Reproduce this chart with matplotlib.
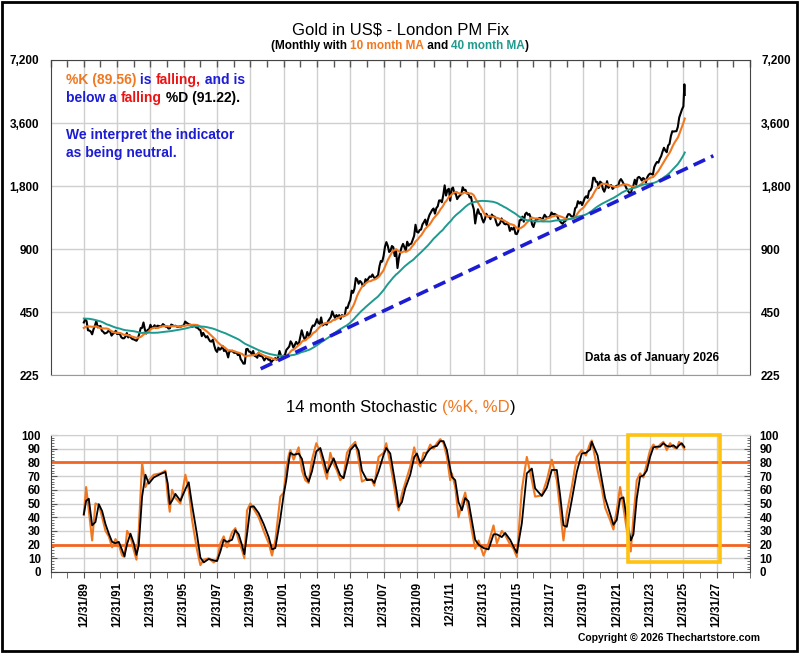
import numpy as np
import pandas as pd
import matplotlib
matplotlib.use("Agg")
import matplotlib.pyplot as plt
from matplotlib.patches import Rectangle
from matplotlib.ticker import FixedLocator, FixedFormatter, NullLocator

plt.rcParams['font.family'] = ['Liberation Sans', 'DejaVu Sans']
plt.rcParams['font.weight'] = 'bold'

# ---------------- data ----------------
# Gold, London PM fix, month-end closes, Jan 1986 .. Jan 2026
price_start_year = 1986
gold_close = [
    345, 339, 345, 340, 343, 346, 357, 385, 423, 401, 383, 391,      # 1986
    405, 406, 419, 451, 454, 447, 462, 453, 460, 468, 492, 484,      # 1987
    458, 426, 457, 449, 456, 436, 437, 427, 397, 412, 422, 410,      # 1988
    394, 387, 383, 378, 362, 373, 368, 360, 367, 376, 408, 401,      # 1989
    415, 407, 368, 367, 363, 352, 372, 387, 408, 380, 384, 386,      # 1990
    366, 362, 355, 357, 360, 368, 362, 347, 354, 357, 366, 353,      # 1991
    354, 353, 341, 337, 337, 343, 357, 340, 349, 339, 334, 333,      # 1992
    330, 328, 337, 355, 377, 378, 401, 371, 355, 370, 371, 391,      # 1993
    378, 381, 389, 377, 387, 386, 384, 385, 394, 389, 383, 383,      # 1994
    375, 376, 392, 389, 385, 387, 383, 382, 384, 383, 387, 387,      # 1995
    405, 400, 396, 392, 391, 382, 385, 386, 379, 379, 371, 369,      # 1996
    345, 358, 348, 340, 345, 334, 326, 325, 332, 311, 296, 290,      # 1997
    304, 297, 301, 310, 293, 296, 288, 273, 294, 292, 294, 288,      # 1998
    287, 288, 280, 286, 268, 262, 255, 255, 299, 300, 291, 290,      # 1999
    283, 293, 278, 276, 272, 288, 277, 278, 273, 264, 270, 273,      # 2000
    266, 267, 258, 264, 267, 271, 266, 273, 293, 279, 275, 277,      # 2001
    282, 297, 302, 308, 326, 318, 304, 313, 324, 316, 319, 343,      # 2002
    368, 348, 334, 337, 361, 346, 354, 375, 388, 386, 398, 416,      # 2003
    399, 395, 424, 388, 393, 395, 391, 407, 416, 426, 453, 435,      # 2004
    422, 435, 427, 435, 417, 435, 429, 433, 473, 470, 495, 513,      # 2005
    569, 556, 582, 654, 643, 614, 633, 623, 599, 604, 646, 632,      # 2006
    650, 665, 662, 680, 659, 650, 665, 673, 743, 789, 783, 834,      # 2007
    923, 971, 933, 871, 885, 930, 918, 833, 884, 730, 814, 870,      # 2008
    919, 952, 916, 884, 975, 934, 949, 955, 996, 1040, 1175, 1087,   # 2009
    1078, 1109, 1115, 1180, 1208, 1244, 1169, 1246, 1307, 1346, 1383, 1405,  # 2010
    1327, 1411, 1439, 1535, 1536, 1505, 1628, 1813, 1620, 1722, 1746, 1531,  # 2011
    1744, 1770, 1662, 1651, 1558, 1598, 1622, 1648, 1776, 1720, 1726, 1657,  # 2012
    1664, 1588, 1598, 1469, 1394, 1192, 1314, 1394, 1326, 1324, 1253, 1205,  # 2013
    1251, 1326, 1291, 1288, 1250, 1315, 1285, 1285, 1216, 1164, 1176, 1199,  # 2014
    1260, 1214, 1187, 1180, 1191, 1171, 1098, 1135, 1115, 1142, 1065, 1060,  # 2015
    1097, 1234, 1237, 1285, 1215, 1320, 1343, 1310, 1323, 1272, 1178, 1146,  # 2016
    1212, 1255, 1245, 1266, 1266, 1242, 1267, 1312, 1283, 1270, 1275, 1291,  # 2017
    1345, 1318, 1325, 1316, 1298, 1250, 1224, 1201, 1187, 1215, 1222, 1279,  # 2018
    1320, 1320, 1295, 1283, 1295, 1409, 1427, 1523, 1485, 1511, 1460, 1515,  # 2019
    1582, 1609, 1577, 1702, 1716, 1769, 1971, 1968, 1887, 1880, 1763, 1888,  # 2020
    1863, 1743, 1691, 1768, 1899, 1763, 1807, 1818, 1743, 1772, 1785, 1806,  # 2021
    1795, 1900, 1942, 1897, 1838, 1817, 1753, 1711, 1672, 1633, 1754, 1813,  # 2022
    1929, 1826, 1969, 1990, 1962, 1912, 1965, 1942, 1871, 1983, 2036, 2063,  # 2023
    2053, 2039, 2214, 2291, 2346, 2327, 2427, 2502, 2629, 2741, 2657, 2610,  # 2024
    2812, 2858, 3116, 3288, 3277, 3287, 3290, 3448, 3825, 4000, 4180, 4320,  # 2025
    4900,                                                                     # 2026
]
# late-January 2026 intramonth spike
spike_dates = [2026.06]
spike_values = [5510]

# Blue dashed trend line (start / end)
trend_dates = [2000.62, 2027.8]
trend_values = [241, 2510]

price_ticks = [225, 450, 900, 1800, 3600, 7200]
price_tick_labels = ["225", "450", "900", "1,800", "3,600", "7,200"]

# 14-month stochastic %K (decimal years)
stoch_dates = [
    1990.00, 1990.14, 1990.30, 1990.50, 1990.70, 1990.90, 1991.10, 1991.30, 1991.50, 1991.70,
    1991.90, 1992.10, 1992.30, 1992.44, 1992.60, 1992.80, 1993.00, 1993.16, 1993.30, 1993.50,
    1993.70, 1993.90, 1994.20, 1994.60, 1994.90, 1995.04, 1995.16, 1995.30, 1995.50, 1995.80,
    1996.10, 1996.30, 1996.50, 1996.80, 1997.00, 1997.20, 1997.50, 1997.80, 1998.00, 1998.20,
    1998.40, 1998.60, 1998.90, 1999.10, 1999.30, 1999.50, 1999.64, 1999.80, 2000.00, 2000.20,
    2000.50, 2000.80, 2001.10, 2001.30, 2001.50, 2001.80, 2002.00, 2002.15, 2002.30, 2002.40,
    2002.60, 2002.90, 2003.10, 2003.30, 2003.50, 2003.70, 2003.96, 2004.20, 2004.40, 2004.60,
    2004.80, 2005.00, 2005.20, 2005.40, 2005.60, 2005.80, 2006.00, 2006.30, 2006.50, 2006.70,
    2007.00, 2007.30, 2007.44, 2007.70, 2008.00, 2008.16, 2008.40, 2008.60, 2008.80, 2008.90,
    2009.10, 2009.30, 2009.60, 2009.84, 2010.00, 2010.20, 2010.40, 2010.60, 2010.80, 2011.00,
    2011.20, 2011.40, 2011.60, 2011.80, 2012.00, 2012.10, 2012.30, 2012.50, 2012.70, 2012.90,
    2013.10, 2013.30, 2013.50, 2013.70, 2014.00, 2014.30, 2014.60, 2014.80, 2015.10, 2015.30,
    2015.60, 2015.80, 2016.00, 2016.30, 2016.60, 2016.90, 2017.10, 2017.50, 2017.80, 2018.10,
    2018.40, 2018.60, 2018.80, 2019.00, 2019.30, 2019.60, 2019.90, 2020.15, 2020.40, 2020.50,
    2020.85, 2021.10, 2021.30, 2021.60, 2021.80, 2022.00, 2022.20, 2022.40, 2022.60, 2022.84,
    2023.00, 2023.20, 2023.40, 2023.60, 2023.80, 2024.00, 2024.20, 2024.40, 2024.60, 2024.80,
    2025.00, 2025.20, 2025.40, 2025.60, 2025.74, 2025.90, 2026.06,
]
stoch_k = [
    42, 62, 45, 23, 50, 49, 40, 30, 26, 18,
    24, 20, 12, 11, 30, 26, 16, 9, 30, 80,
    62, 67, 71, 72, 74, 55, 44, 60, 54, 50,
    71, 60, 38, 16, 5, 9, 10, 7, 9, 21,
    26, 18, 29, 32, 23, 16, 10, 45, 50, 46,
    40, 30, 21, 12, 23, 55, 58, 75, 85, 89,
    82, 91, 74, 67, 65, 82, 94, 87, 77, 68,
    87, 79, 74, 67, 70, 87, 91, 95, 82, 66,
    68, 67, 63, 84, 87, 94, 79, 65, 50, 45,
    57, 65, 77, 91, 82, 77, 87, 87, 93, 90,
    94, 97, 94, 84, 67, 72, 62, 40, 50, 58,
    45, 30, 17, 23, 12, 21, 34, 21, 30, 27,
    20, 17, 11, 60, 84, 67, 55, 56, 67, 82,
    67, 45, 23, 43, 62, 84, 89, 85, 94, 96,
    74, 61, 47, 38, 31, 45, 62, 47, 31, 15,
    40, 67, 72, 69, 79, 89, 93, 90, 93, 95,
    89, 94, 91, 90, 95, 93, 89.56,
]

stoch_levels = [80, 20]
x_tick_years = list(range(1990, 2029, 2))
x_tick_labels = ["12/31/%02d" % ((y - 1) % 100) for y in x_tick_years]

# highlight box on stochastic panel
box_x0, box_x1, box_y0, box_y1 = 2022.7, 2028.2, 7, 100.3

# ---------------- colours ----------------
ORANGE = '#F07820'
TEAL = '#1E9A8E'
BLUE = '#1C1CD4'
RED = '#EE1111'
GRID = '#CFCFCF'

# ---------------- figure ----------------
W, H = 800, 653
fig = plt.figure(figsize=(W / 100, H / 100), dpi=100)
fig.patch.set_facecolor('white')

def fx(px):
    return px / W

def fy(py):
    return 1 - py / H

L, R = 50.5, 750
ax1 = fig.add_axes([fx(L), fy(375), (R - L) / W, (375 - 60) / H])
ax2 = fig.add_axes([fx(L), fy(572), (R - L) / W, (572 - 435) / H])

# ---- price panel ----
n = len(gold_close)
month_end = price_start_year + (np.arange(n) + 1) / 12.0
s = pd.Series(gold_close, dtype=float)
ma10 = s.rolling(10).mean().to_numpy()
ma40 = s.rolling(40).mean().to_numpy()
mask = month_end >= 1990.0 - 1e-6

bx = np.append(month_end[mask], spike_dates)
by = np.append(np.asarray(gold_close, dtype=float)[mask], spike_values)
order = np.argsort(bx, kind='stable')
ax1.plot(bx[order], by[order], color='black', lw=1.5, zorder=3)
ax1.plot(month_end[mask], ma10[mask], color=ORANGE, lw=1.5, zorder=4)
ax1.plot(month_end[mask], ma40[mask], color=TEAL, lw=1.4, zorder=4)
ax1.plot(trend_dates, trend_values, color=BLUE, lw=2.6,
         linestyle=(0, (3.5, 1.8)), zorder=5)

ax1.set_yscale('log')
ax1.set_ylim(225, 7200)
ax1.set_xlim(1988, 2030)
ax1.yaxis.set_major_locator(FixedLocator(price_ticks))
ax1.yaxis.set_major_formatter(FixedFormatter(price_tick_labels))
ax1.yaxis.set_minor_locator(NullLocator())
ax1.xaxis.set_major_locator(FixedLocator(x_tick_years))
ax1.xaxis.set_minor_locator(FixedLocator(list(range(1988, 2031))))
ax1.tick_params(axis='x', which='both', top=True, bottom=False, direction='in',
                length=5, width=1, color='#555555', labelbottom=False, labeltop=False)
ax1.tick_params(axis='y', which='both', left=True, right=True, length=0,
                labelleft=True, labelright=True, labelsize=8.5, pad=8)
ax1.grid(True, which='major', axis='both', color=GRID, lw=1.0, zorder=0)
ax1.set_axisbelow(True)
for side in ['left', 'right', 'top']:
    ax1.spines[side].set_color('#444444')
ax1.spines['bottom'].set_color('#999999')

fig.text(fx(719), fy(361), 'Data as of January 2026', ha='right', va='baseline',
         fontsize=8.5, color='black')

# ---- stochastic panel ----
sk = pd.Series(stoch_k, dtype=float)
sd = sk.rolling(2, min_periods=1).mean().to_numpy()
ax2.plot(stoch_dates, stoch_k, color=ORANGE, lw=1.5, zorder=3)
ax2.plot(stoch_dates, sd, color='black', lw=1.3, zorder=4)
for lvl in stoch_levels:
    ax2.axhline(lvl, color='#F26522', lw=2, zorder=2)
ax2.add_patch(Rectangle((box_x0, box_y0), box_x1 - box_x0, box_y1 - box_y0,
                        fill=False, ec='#FFC20E', lw=2.6, zorder=6, clip_on=False))

ax2.set_ylim(0, 100)
ax2.set_xlim(1988, 2030)
ax2.yaxis.set_major_locator(FixedLocator(list(range(0, 101, 10))))
ax2.yaxis.set_minor_locator(FixedLocator(list(range(0, 101, 2))))
ax2.xaxis.set_major_locator(FixedLocator(x_tick_years))
ax2.xaxis.set_major_formatter(FixedFormatter(x_tick_labels))
ax2.xaxis.set_minor_locator(FixedLocator(list(range(1988, 2031))))
ax2.tick_params(axis='x', which='both', bottom=True, top=False, direction='out',
                length=4, color='#555555', labelsize=8.3, pad=3, labelrotation=90)
ax2.tick_params(axis='y', which='both', left=True, right=True, direction='in',
                color='#555555', labelleft=True, labelright=True, labelsize=8.3, pad=7)
ax2.tick_params(axis='y', which='major', length=4)
ax2.tick_params(axis='y', which='minor', length=2.5)
ax2.grid(True, which='major', axis='both', color=GRID, lw=1.0, zorder=0)
ax2.set_axisbelow(True)
for side in ['left', 'right', 'bottom']:
    ax2.spines[side].set_color('#444444')
ax2.spines['top'].set_color(GRID)

# ---------------- multi-coloured texts ----------------
renderer = fig.canvas.get_renderer()

def text_w(s, **kw):
    t = fig.text(0, 0, s, **kw)
    w = t.get_window_extent(renderer).width
    t.remove()
    return w

def rainbow(x_px, y_px, pieces, ha='left', **kw):
    dot = text_w('.', **kw)
    full = ''.join(p for p, _ in pieces)
    total = text_w(full + '.', **kw) - dot
    start = x_px if ha == 'left' else x_px - total / 2
    prefix = ''
    for p, c in pieces:
        off = (text_w(prefix + '.', **kw) - dot) if prefix else 0
        fig.text(fx(start + off), fy(y_px), p, color=c, ha='left', va='baseline', **kw)
        prefix += p

fig.text(fx(400.5), fy(34), 'Gold in US$ - London PM Fix', ha='center', va='baseline',
         fontsize=12, fontweight='normal', color='black')
rainbow(400, 49, [("(Monthly with ", 'black'), ("10 month MA", ORANGE), (" and ", 'black'),
                  ("40 month MA", TEAL), (")", 'black')], ha='center', fontsize=8.5,
        fontweight='bold')

rainbow(66, 84, [("%K (89.56)", ORANGE), (" is ", BLUE), ("falling,", RED), (" and is", BLUE)],
        fontsize=10, fontweight='bold')
rainbow(66, 102, [("below a ", BLUE), ("falling", RED), (" %D (91.22).", 'black')],
        fontsize=10, fontweight='bold')
fig.text(fx(66), fy(139.5), 'We interpret the indicator', ha='left', va='baseline',
         fontsize=10, fontweight='bold', color=BLUE)
fig.text(fx(66), fy(157), 'as being neutral.', ha='left', va='baseline',
         fontsize=10, fontweight='bold', color=BLUE)

rainbow(401, 412, [("14 month Stochastic ", 'black'), ("(%K, %D", ORANGE), (")", 'black')],
        ha='center', fontsize=12, fontweight='normal')

fig.text(fx(760), fy(641), 'Copyright \u00a9 2026 Thechartstore.com', ha='right',
         va='baseline', fontsize=7.5, fontweight='bold', color='black')

# outer frame
fig.add_artist(Rectangle((0.002, 0.003), 0.994, 0.994, transform=fig.transFigure,
                         fill=False, ec='black', lw=2))

fig.savefig('out.png', dpi=100, facecolor='white')
